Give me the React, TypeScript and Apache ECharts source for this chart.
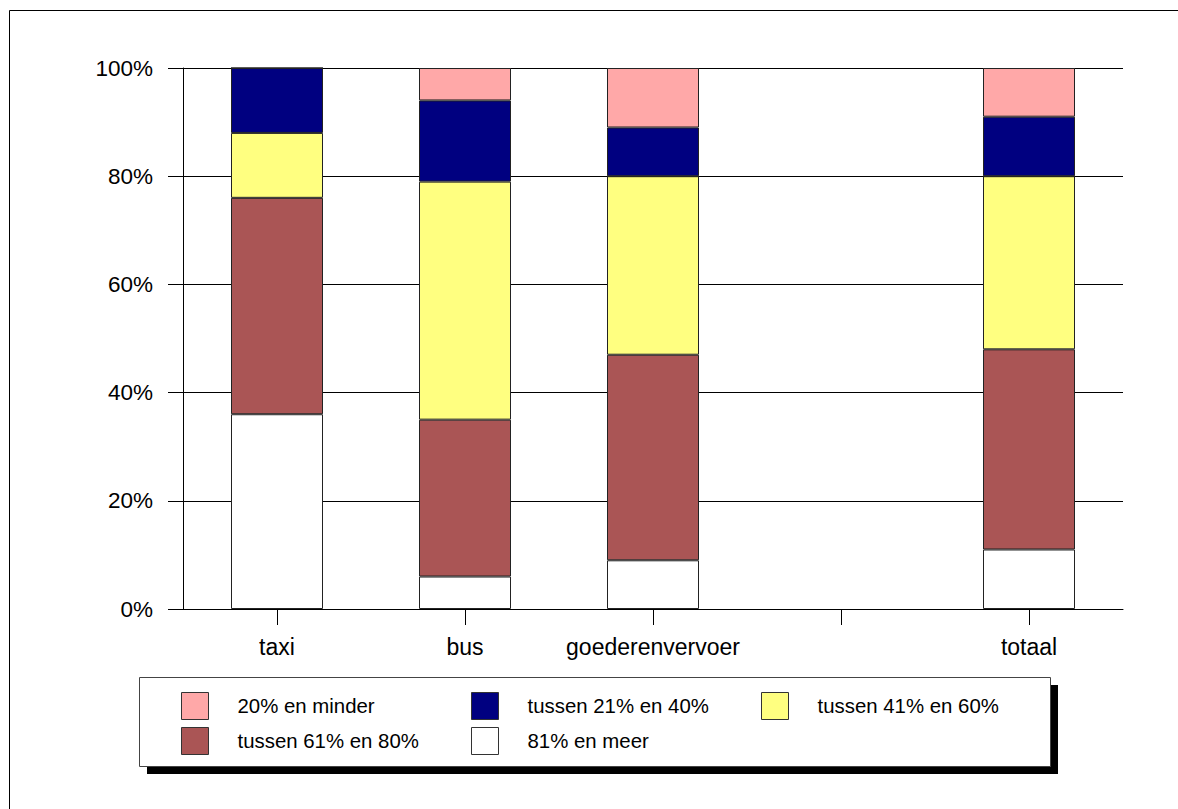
import React, { useEffect, useRef } from "react";
import * as echarts from "echarts";

const categories = ["taxi", "bus", "goederenvervoer", "", "totaal"];
const yTicks = [0, 20, 40, 60, 80, 100];

const seriesNames = [
  "81% en meer",
  "tussen 61% en 80%",
  "tussen 41% en 60%",
  "tussen 21% en 40%",
  "20% en minder",
];
const seriesColors = ["#FFFFFF", "#AA5555", "#FFFF80", "#000080", "#FFA8A8"];

const meer81 = [36, 6, 9, null, 11];
const tussen61_80 = [40, 29, 38, null, 37];
const tussen41_60 = [12, 44, 33, null, 32];
const tussen21_40 = [12, 15, 9, null, 11];
const minder20 = [0, 6, 11, null, 9];

const seriesValues = [meer81, tussen61_80, tussen41_60, tussen21_40, minder20];

// legend layout order (row-major)
const legendOrder = [
  "20% en minder",
  "tussen 21% en 40%",
  "tussen 41% en 60%",
  "tussen 61% en 80%",
  "81% en meer",
];

export default function App() {
  const ref = useRef<HTMLDivElement>(null);

  useEffect(() => {
    document.body.style.margin = "0";
    if (!ref.current) return;
    const chart = echarts.init(ref.current, null, { renderer: "svg" });
    const font = "'Liberation Sans', Arial, sans-serif";

    const legends = legendOrder.map((name, i) => {
      const col = i % 3;
      const row = Math.floor(i / 3);
      return {
        data: [name],
        left: 181 + col * 290,
        top: 692 + row * 35,
        padding: 0,
        itemWidth: 27,
        itemHeight: 27,
        icon: "rect",
        selectedMode: false,
        itemStyle: { borderColor: "#333", borderWidth: 1 },
        textStyle: {
          fontFamily: font,
          fontSize: 20.4,
          color: "#000",
          padding: [0, 0, 0, 24],
        },
      };
    });

    chart.setOption({
      animation: false,
      backgroundColor: "#fff",
      textStyle: { fontFamily: font },
      graphic: [
        {
          type: "polyline",
          shape: { points: [[9.5, 900], [9.5, 10.5], [1300, 10.5]] },
          style: { fill: "none", stroke: "#000", lineWidth: 1 },
          silent: true,
        },
        {
          type: "rect",
          shape: { x: 147, y: 685, width: 911, height: 89 },
          style: { fill: "#000" },
          silent: true,
          z: -1,
        },
        {
          type: "rect",
          shape: { x: 139.5, y: 677.5, width: 911, height: 89 },
          style: { fill: "#fff", stroke: "#444", lineWidth: 1 },
          silent: true,
          z: -1,
        },
      ],
      legend: legends,
      grid: { left: 183, right: 55, top: 68, bottom: 200, containLabel: false },
      xAxis: {
        type: "category",
        data: categories,
        boundaryGap: true,
        axisLine: { show: true, lineStyle: { color: "#000", width: 1 } },
        axisTick: {
          show: true,
          alignWithLabel: true,
          interval: 0,
          length: 16,
          lineStyle: { color: "#000" },
        },
        axisLabel: {
          fontFamily: font,
          fontSize: 23,
          color: "#000",
          margin: 26,
          interval: 0,
        },
        splitLine: { show: false },
      },
      yAxis: {
        type: "value",
        min: yTicks[0],
        max: yTicks[yTicks.length - 1],
        interval: 20,
        axisLine: { show: true, lineStyle: { color: "#000", width: 1 } },
        axisTick: { show: true, length: 15, lineStyle: { color: "#000" } },
        axisLabel: {
          fontFamily: font,
          fontSize: 22.5,
          color: "#000",
          margin: 30,
          formatter: "{value}%",
        },
        splitLine: { show: true, lineStyle: { color: "#000", width: 1 } },
      },
      series: seriesNames.map((name, i) => ({
        name,
        type: "bar",
        stack: "total",
        barWidth: 92,
        data: seriesValues[i],
        itemStyle: {
          color: seriesColors[i],
          borderColor: "#222",
          borderWidth: 1,
        },
      })),
    });

    return () => chart.dispose();
  }, []);

  return <div ref={ref} style={{ width: 1178, height: 809 }} />;
}
